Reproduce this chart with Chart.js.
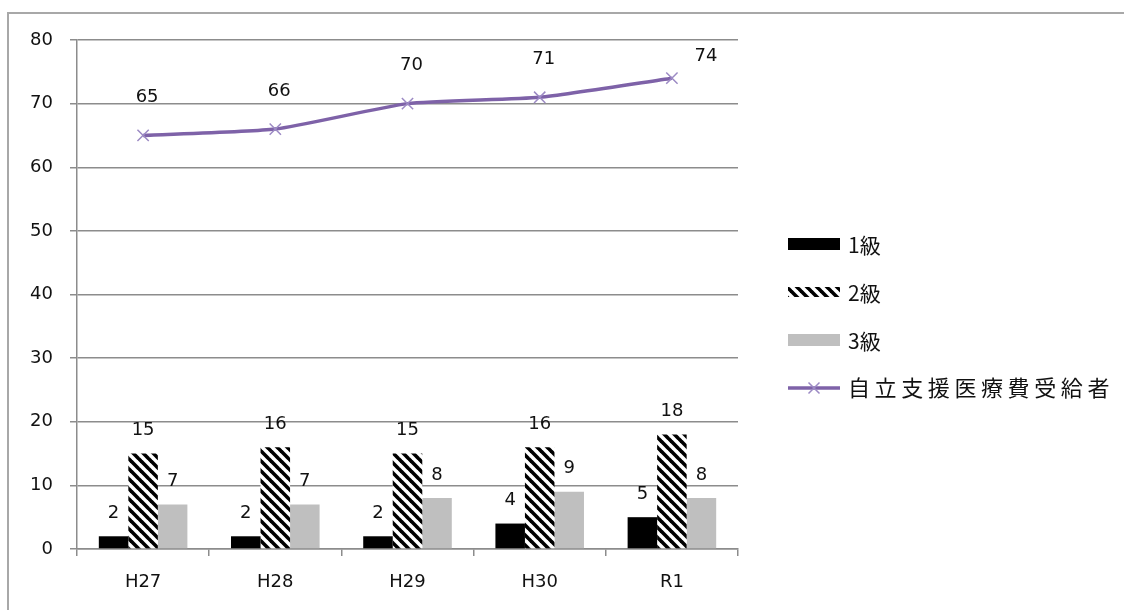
<!DOCTYPE html>
<html>
<head>
<meta charset="utf-8">
<script src="https://cdn.jsdelivr.net/npm/chart.js@4.4.1/dist/chart.umd.min.js"></script>
<style>
  html, body { margin: 0; padding: 0; background: #ffffff; }
  #wrap { width: 1124px; height: 610px; position: relative; }
</style>
</head>
<body>
<div id="wrap"><canvas id="chart" width="1124" height="610"></canvas></div>
<script>
// Fiscal years
const categories = ['H27', 'H28', 'H29', 'H30', 'R1'];
// Disability grade counts
const grade1 = [2, 2, 2, 4, 5];
const grade2 = [15, 16, 15, 16, 18];
const grade3 = [7, 7, 8, 9, 8];
// Recipients of independence support medical care
const recipients = [65, 66, 70, 71, 74];
const seriesNames = ['1級', '2級', '3級', '自立支援医療費受給者'];
// Value axis range
const yMin = 0, yMax = 80, yStep = 10;

const NUM_FONT = "'DejaVu Sans', sans-serif";
const JP_FONT = "'Noto Sans CJK JP', sans-serif";
const GRID = '#8c8c8c';
const LINE_COLOR = '#7e62a8';
const MARK_COLOR = '#9c8ac4';
const TEXT = '#111111';

// Diagonal black/white stripes for the 2級 bars
function makeHatch() {
  const c = document.createElement('canvas');
  c.width = 10; c.height = 10;
  const g = c.getContext('2d');
  g.fillStyle = '#ffffff';
  g.fillRect(0, 0, 10, 10);
  g.strokeStyle = '#000000';
  g.lineWidth = 3.6;
  for (let k = -1; k <= 1; k++) {
    g.beginPath();
    g.moveTo(k * 10 - 1, -1);
    g.lineTo(k * 10 + 11, 11);
    g.stroke();
  }
  return g.createPattern(c, 'repeat');
}
const ctx = document.getElementById('chart').getContext('2d');
const hatch = makeHatch();

const frame = {
  id: 'frame',
  beforeDraw(chart) {
    const c = chart.ctx;
    c.save();
    c.fillStyle = '#ffffff';
    c.fillRect(0, 0, chart.width, chart.height);
    c.strokeStyle = '#a8a8a8';
    c.lineWidth = 2;
    c.beginPath();
    c.moveTo(8, chart.height);
    c.lineTo(8, 13);
    c.lineTo(chart.width, 13);
    c.stroke();
    c.restore();
  }
};

const valueLabels = {
  id: 'valueLabels',
  afterDatasetsDraw(chart) {
    const c = chart.ctx;
    c.save();
    c.font = '18px ' + NUM_FONT;
    c.fillStyle = TEXT;
    c.textAlign = 'center';
    c.textBaseline = 'middle';
    chart.data.datasets.forEach((ds, di) => {
      const meta = chart.getDatasetMeta(di);
      meta.data.forEach((el, i) => {
        const v = ds.data[i];
        if (ds.type === 'line') {
          const last = i === ds.data.length - 1;
          c.fillText(String(v), el.x + (last ? 34 : 4), el.y - (last ? 22 : 38));
        } else {
          c.fillText(String(v), el.x, el.y - 23);
        }
      });
    });
    c.restore();
  }
};

const sideLegend = {
  id: 'sideLegend',
  afterDraw(chart) {
    const c = chart.ctx;
    const x0 = 788, w = 52, tx = 848;
    const rows = [244, 292, 340, 388];
    c.save();
    // 1級
    c.fillStyle = '#000000';
    c.fillRect(x0, rows[0] - 6, w, 12);
    // 2級
    c.fillStyle = hatch;
    c.fillRect(x0, rows[1] - 5, w, 10);
    // 3級
    c.fillStyle = '#bfbfbf';
    c.fillRect(x0, rows[2] - 6, w, 12);
    // line series
    c.strokeStyle = LINE_COLOR;
    c.lineWidth = 3.5;
    c.beginPath();
    c.moveTo(x0, rows[3]);
    c.lineTo(x0 + w, rows[3]);
    c.stroke();
    c.strokeStyle = MARK_COLOR;
    c.lineWidth = 1.5;
    const mx = x0 + w / 2, r = 5.5;
    c.beginPath();
    c.moveTo(mx - r, rows[3] - r); c.lineTo(mx + r, rows[3] + r);
    c.moveTo(mx - r, rows[3] + r); c.lineTo(mx + r, rows[3] - r);
    c.stroke();

    c.fillStyle = TEXT;
    c.textBaseline = 'middle';
    c.textAlign = 'left';
    c.font = '21px ' + JP_FONT;
    for (let k = 0; k < 3; k++) {
      c.fillText(seriesNames[k], tx, rows[k] + 1);
    }
    // wide-spaced long label
    c.font = '22px ' + JP_FONT;
    const chars = Array.from(seriesNames[3]);
    chars.forEach((ch, k) => c.fillText(ch, tx + k * 26.6, rows[3]));
    c.restore();
  }
};

new Chart(ctx, {
  data: {
    labels: categories,
    datasets: [
      {
        type: 'line',
        label: seriesNames[3],
        data: recipients,
        order: 0,
        borderColor: LINE_COLOR,
        borderWidth: 3.5,
        tension: 0.18,
        fill: false,
        pointStyle: 'crossRot',
        pointRadius: 8,
        pointBorderColor: MARK_COLOR,
        pointBorderWidth: 1.5,
        pointBackgroundColor: MARK_COLOR
      },
      {
        type: 'bar', label: seriesNames[0], data: grade1, order: 1,
        backgroundColor: '#000000', categoryPercentage: 0.67, barPercentage: 1.0
      },
      {
        type: 'bar', label: seriesNames[1], data: grade2, order: 2,
        backgroundColor: hatch, categoryPercentage: 0.67, barPercentage: 1.0
      },
      {
        type: 'bar', label: seriesNames[2], data: grade3, order: 3,
        backgroundColor: '#bfbfbf', categoryPercentage: 0.67, barPercentage: 1.0
      }
    ]
  },
  options: {
    responsive: false,
    animation: false,
    events: [],
    layout: { padding: { top: 40, right: 386, bottom: 0, left: 0 } },
    plugins: {
      legend: { display: false },
      tooltip: { enabled: false },
      title: { display: false }
    },
    scales: {
      x: {
        offset: true,
        grid: { offset: true, drawOnChartArea: false, drawTicks: true, tickLength: 7, color: GRID, lineWidth: 1.5 },
        border: { color: GRID, width: 1.5 },
        ticks: { font: { family: NUM_FONT, size: 18 }, color: TEXT, padding: 16 },
        afterFit(s) { s.height = 61; }
      },
      y: {
        min: yMin,
        max: yMax,
        grid: { color: GRID, lineWidth: 1.5, tickLength: 7 },
        border: { color: GRID, width: 1.5 },
        ticks: { stepSize: yStep, font: { family: NUM_FONT, size: 18 }, color: TEXT, padding: 17 },
        afterFit(s) { s.width = 77; }
      }
    }
  },
  plugins: [frame, valueLabels, sideLegend]
});
</script>
</body>
</html>
